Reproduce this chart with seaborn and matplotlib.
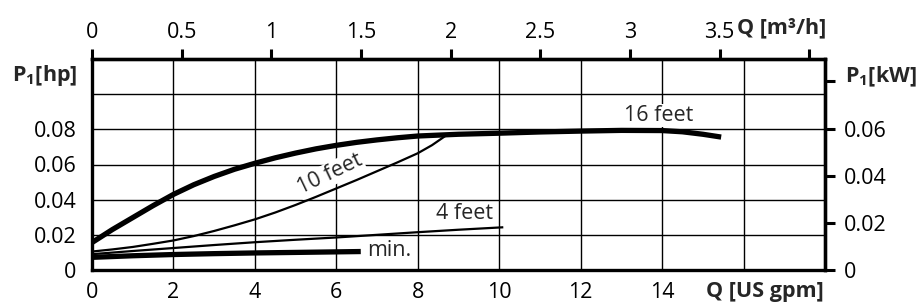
import matplotlib
matplotlib.use("Agg")
import matplotlib.pyplot as plt
import seaborn as sns

# ---- data ----
q_16 = [0, 0.5, 1, 1.5, 2, 2.5, 3, 3.5, 4, 4.5, 5, 5.5, 6, 6.5, 7, 7.5, 8, 9, 10, 11, 12,
        13, 14, 14.5, 15, 15.45]
p_16 = [0.0156, 0.0230, 0.0298, 0.0366, 0.0430, 0.0485, 0.0532, 0.0573, 0.0607, 0.0638,
        0.0665, 0.0689, 0.0709, 0.0726, 0.0740, 0.0752, 0.0762, 0.0772, 0.0778, 0.0785,
        0.0790, 0.0794, 0.0793, 0.0786, 0.0772, 0.0756]
q_10 = [0, 0.5, 1, 1.5, 2, 2.5, 3, 3.5, 4, 4.5, 5, 5.5, 6, 6.5, 7, 7.5, 8, 8.35, 8.7]
p_10 = [0.0105, 0.0117, 0.0131, 0.0149, 0.0168, 0.0193, 0.0222, 0.0254, 0.0288, 0.0327,
        0.0370, 0.0416, 0.0464, 0.0512, 0.0562, 0.0612, 0.0664, 0.0710, 0.0766]
q_4 = [0, 1, 2, 3, 4, 5, 6, 7, 8, 9, 10.1]
p_4 = [0.0090, 0.0108, 0.0125, 0.0142, 0.0158, 0.0172, 0.0185, 0.0200, 0.0215, 0.0229, 0.0243]
q_min = [0, 1, 2, 3, 4, 5, 6.6]
p_min = [0.0072, 0.0081, 0.0088, 0.0093, 0.0097, 0.0100, 0.0105]

gpm_ticks = [0, 2, 4, 6, 8, 10, 12, 14, 16, 18]
gpm_labels = ["0", "2", "4", "6", "8", "10", "12", "14", "", ""]
hp_ticks = [0, 0.02, 0.04, 0.06, 0.08, 0.10, 0.12]
hp_labels = ["0", "0.02", "0.04", "0.06", "0.08", "", ""]
m3h_ticks = [0, 0.5, 1, 1.5, 2, 2.5, 3, 3.5, 4]
m3h_labels = ["0", "0.5", "1", "1.5", "2", "2.5", "3", "3.5", ""]
kw_ticks = [0, 0.02, 0.04, 0.06, 0.08]
kw_labels = ["0", "0.02", "0.04", "0.06", ""]

curve_labels = ["16 feet", "10 feet", "4 feet", "min."]
label_q = [13.92, 5.85, 9.14, 6.76]
label_p = [0.0880, 0.0545, 0.0322, 0.0112]

GPM_PER_M3H = 4.4029
KW_PER_HP = 0.7457

# ---- style ----
sns.set_style("white")
plt.rcParams["font.family"] = ["Open Sans", "DejaVu Sans"]
plt.rcParams["mathtext.fontset"] = "custom"
plt.rcParams["mathtext.bf"] = "Open Sans:bold"
plt.rcParams["mathtext.rm"] = "Open Sans"

FS = 15.5
fig = plt.figure(figsize=(9.24, 3.08), dpi=100)
ax = fig.add_axes([92 / 924, 38 / 308, (825 - 92) / 924, (270 - 59) / 308])

ax.set_xlim(0, 18)
ax.set_ylim(0, 0.12)
ax.set_xticks(gpm_ticks)
ax.set_xticklabels(gpm_labels)
ax.set_yticks(hp_ticks)
ax.set_yticklabels(hp_labels)
ax.grid(True, color="black", linewidth=1.0, zorder=0)
ax.set_axisbelow(True)
ax.tick_params(axis="x", length=0, pad=8.5, labelsize=FS, colors="black")
ax.tick_params(axis="y", length=0, pad=11, labelsize=FS, colors="black")
for s in ax.spines.values():
    s.set_linewidth(2.4)
    s.set_color("black")
    s.set_zorder(5)

# ---- curves ----
sns.lineplot(x=q_16, y=p_16, ax=ax, color="black", linewidth=3.8, solid_capstyle="butt", zorder=3)
sns.lineplot(x=q_10, y=p_10, ax=ax, color="black", linewidth=1.6, solid_capstyle="butt", zorder=3)
sns.lineplot(x=q_4, y=p_4, ax=ax, color="black", linewidth=1.6, solid_capstyle="butt", zorder=3)
sns.lineplot(x=q_min, y=p_min, ax=ax, color="black", linewidth=3.8, solid_capstyle="butt", zorder=3)

bbox = dict(facecolor="white", edgecolor="none", pad=0.8)
ax.text(label_q[0], label_p[0], curve_labels[0], fontsize=FS, ha="center", va="center", bbox=bbox, zorder=4)
ax.text(label_q[1], label_p[1], curve_labels[1], fontsize=FS, ha="center", va="center", rotation=25.5,
        rotation_mode="anchor", bbox=bbox, zorder=4)
ax.text(label_q[2], label_p[2], curve_labels[2], fontsize=FS, ha="center", va="center", bbox=bbox, zorder=4)
ax.text(label_q[3], label_p[3], curve_labels[3], fontsize=FS, ha="left", va="center", bbox=bbox, zorder=4)

# ---- secondary axes ----
top = ax.secondary_xaxis("top", functions=(lambda q: q / GPM_PER_M3H, lambda m: m * GPM_PER_M3H))
top.set_xticks(m3h_ticks)
top.set_xticklabels(m3h_labels)
top.tick_params(direction="out", length=7.5, width=2.2, pad=4, labelsize=FS, colors="black")
top.spines["top"].set_linewidth(2.4)

right = ax.secondary_yaxis("right", functions=(lambda p: p * KW_PER_HP, lambda k: k / KW_PER_HP))
right.set_yticks(kw_ticks)
right.set_yticklabels(kw_labels)
right.tick_params(direction="out", length=7.5, width=2.2, pad=6, labelsize=FS, colors="black")
right.spines["right"].set_linewidth(2.4)

# ---- axis titles ----
fig.text(77 / 924, 1 - 76 / 308, r"$\mathbf{P_1}$[hp]", fontsize=FS, fontweight="bold", ha="right", va="center")
fig.text(845 / 924, 1 - 77 / 308, r"$\mathbf{P_1}$[kW]", fontsize=FS, fontweight="bold", ha="left", va="center")
fig.text(826 / 924, 1 - 28 / 308, "Q [m³/h]", fontsize=FS, fontweight="bold", ha="right", va="center")
fig.text(824 / 924, 1 - 291 / 308, "Q [US gpm]", fontsize=FS, fontweight="bold", ha="right", va="center")

fig.savefig("out.png", dpi=100)
